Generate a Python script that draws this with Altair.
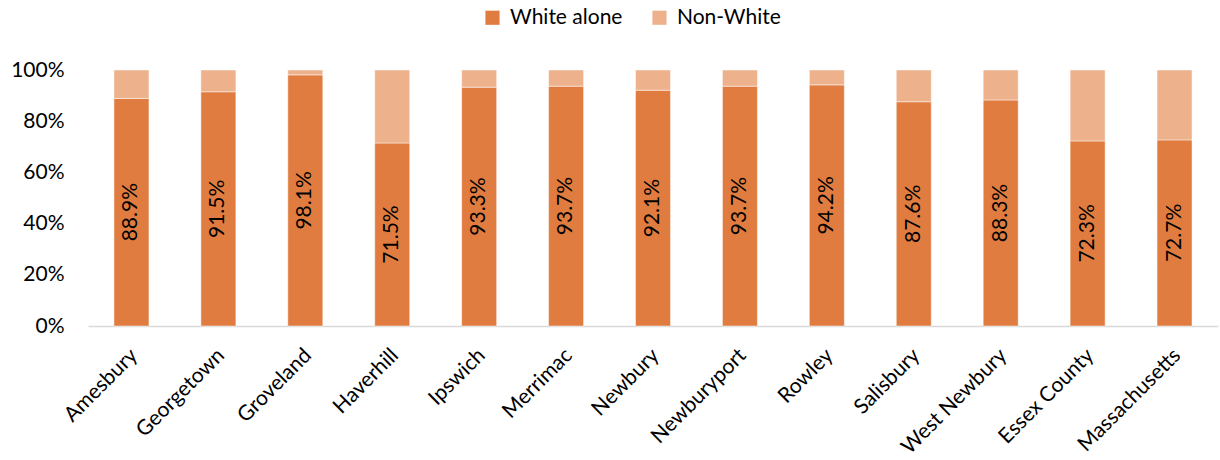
import altair as alt
import pandas as pd

places = ["Amesbury", "Georgetown", "Groveland", "Haverhill", "Ipswich", "Merrimac",
          "Newbury", "Newburyport", "Rowley", "Salisbury", "West Newbury",
          "Essex County", "Massachusetts"]
white_alone = [88.9, 91.5, 98.1, 71.5, 93.3, 93.7, 92.1, 93.7, 94.2, 87.6, 88.3, 72.3, 72.7]
non_white = [11.1, 8.5, 1.9, 28.5, 6.7, 6.3, 7.9, 6.3, 5.8, 12.4, 11.7, 27.7, 27.3]
series = ["White alone", "Non-White"]
colors = ["#E07C3F", "#EDB18B"]

rows = []
for p, w, n in zip(places, white_alone, non_white):
    rows.append({"place": p, "series": series[0], "value": w, "ord": 0})
    rows.append({"place": p, "series": series[1], "value": n, "ord": 1})
df = pd.DataFrame(rows)
lab = pd.DataFrame({"place": places, "white": white_alone})

FONT = "Lato"
FS = 21

x = alt.X("place:N", sort=places, title=None,
          scale=alt.Scale(paddingInner=0, paddingOuter=0),
          axis=alt.Axis(labelAngle=-45, labelAlign="right", labelBaseline="middle",
                        labelPadding=26, labelOffset=3, ticks=False, domainColor="#D9D9D9",
                        domainWidth=1.5, labelFontSize=FS, labelColor="#000000",
                        labelFont=FONT))

bars = alt.Chart(df).mark_bar(size=35, stroke="white", strokeWidth=0.8, strokeOpacity=0.6).encode(
    x=x,
    y=alt.Y("value:Q", stack="normalize", title=None,
            scale=alt.Scale(domain=[0, 1]),
            axis=alt.Axis(format="%", values=[0, 0.2, 0.4, 0.6, 0.8, 1.0], grid=False,
                          domain=False, ticks=False, labelPadding=24,
                          labelFontSize=FS, labelColor="#000000", labelFont=FONT)),
    color=alt.Color("series:N", scale=alt.Scale(domain=series, range=colors),
                    sort=series,
                    legend=alt.Legend(title=None, orient="none", legendX=394, legendY=-63,
                                      direction="horizontal", symbolType="square",
                                      symbolSize=200, symbolStrokeWidth=0,
                                      labelFontSize=FS, labelFont=FONT, labelColor="#000000",
                                      columnPadding=26, labelOffset=7)),
    order=alt.Order("ord:Q", sort="ascending"),
)

text = alt.Chart(lab).transform_calculate(
    mid="datum.white / 200",
    txt="format(datum.white, '.1f') + '%'"
).mark_text(angle=270, fontSize=FS, font=FONT, color="#000000", align="center",
            baseline="middle").encode(
    x=alt.X("place:N", sort=places),
    y=alt.Y("mid:Q"),
    text="txt:N",
)

chart = alt.layer(bars, text).properties(
    width=1130, height=256, autosize="none",
    padding={"left": 88, "top": 70, "right": 2, "bottom": 134},
).configure_view(stroke=None)

chart.save("out.html", embed_options={"renderer": "svg", "actions": False})
